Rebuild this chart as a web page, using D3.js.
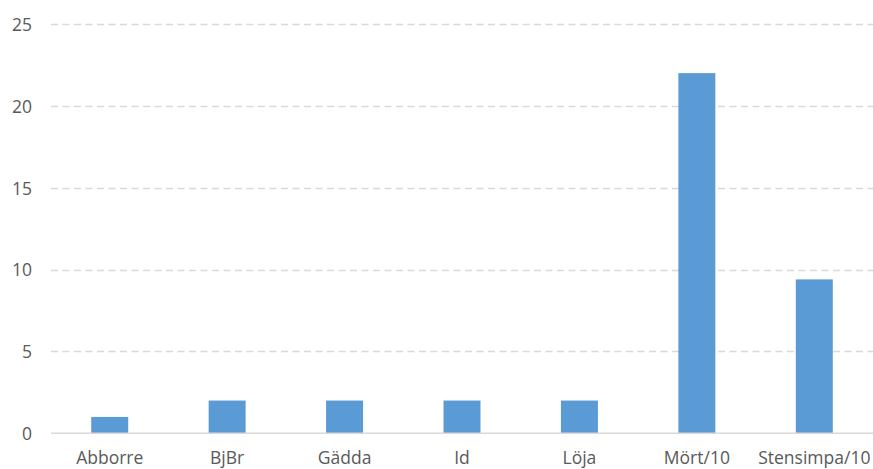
<!DOCTYPE html>
<html>
<head>
<meta charset="utf-8">
<script src="https://cdn.jsdelivr.net/npm/d3@7"></script>
<style>
  html, body { margin: 0; padding: 0; background: #fff; }
  svg text { font-family: "Open Sans", "Noto Sans", sans-serif; fill: #595959; }
</style>
</head>
<body>
<svg id="chart" width="873" height="469"></svg>
<script>
// Fish catch per species (Mört and Stensimpa scaled down by 10)
const categories = ["Abborre", "BjBr", "Gädda", "Id", "Löja", "Mört/10", "Stensimpa/10"];
const values = [1, 2, 2, 2, 2, 22, 9.4];
const yTicks = [0, 5, 10, 15, 20, 25];

const svg = d3.select("#chart");
const margin = { top: 24, right: 0, bottom: 36, left: 51 };
const width = 873, height = 469;

const x = d3.scaleBand()
  .domain(categories)
  .range([margin.left, width - margin.right])
  .paddingInner(0.685)
  .paddingOuter(0.3425);

const y = d3.scaleLinear()
  .domain([0, 25])
  .range([433.3, margin.top]);

// Dashed horizontal gridlines
svg.append("g")
  .selectAll("line")
  .data(yTicks.filter(d => d > 0))
  .join("line")
  .attr("x1", margin.left)
  .attr("x2", width)
  .attr("y1", d => Math.round(y(d)) + 0.5)
  .attr("y2", d => Math.round(y(d)) + 0.5)
  .attr("stroke", "#d9d9d9")
  .attr("stroke-width", 1.3)
  .attr("stroke-dasharray", "7,4.5");

// Y axis tick labels
const yAxis = d3.axisLeft(y).tickValues(yTicks).tickSize(0).tickPadding(0);
const gy = svg.append("g")
  .attr("transform", `translate(${margin.left - 19},0)`)
  .call(yAxis);
gy.select(".domain").remove();
gy.selectAll("text")
  .style("font-size", "17.5px")
  .attr("dy", "0.36em");

// Bars
svg.append("g")
  .selectAll("rect")
  .data(values)
  .join("rect")
  .attr("x", (d, i) => x(categories[i]))
  .attr("width", x.bandwidth())
  .attr("y", d => y(d))
  .attr("height", d => y(0) - y(d))
  .attr("fill", "#5b9bd5");

// Baseline
svg.append("line")
  .attr("x1", margin.left)
  .attr("x2", width)
  .attr("y1", y(0))
  .attr("y2", y(0))
  .attr("stroke", "#d9d9d9")
  .attr("stroke-width", 1.5);

// X axis category labels
const xAxis = d3.axisBottom(x).tickSize(0).tickPadding(0);
const gx = svg.append("g")
  .attr("transform", `translate(0,${y(0)})`)
  .call(xAxis);
gx.select(".domain").remove();
gx.selectAll("text")
  .style("font-size", "17.5px")
  .attr("y", 25)
  .attr("dy", "0.32em");
</script>
</body>
</html>
